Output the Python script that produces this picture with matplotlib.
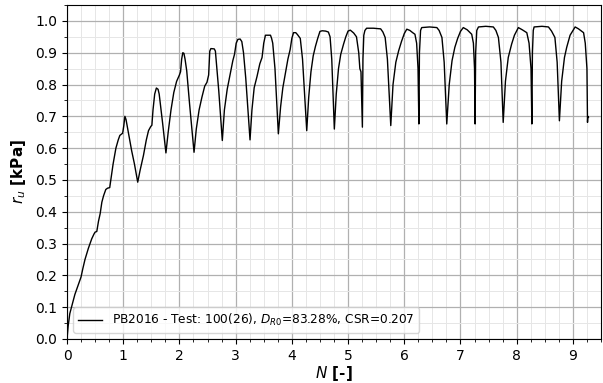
import matplotlib
matplotlib.use("Agg")
import matplotlib.pyplot as plt
from matplotlib.ticker import MultipleLocator

N = [0, 0.02, 0.05, 0.08, 0.14, 0.2, 0.25, 0.28, 0.32, 0.38, 0.44, 0.48, 0.50, 0.53, 0.56, 0.59, 0.62, 0.65, 0.69, 0.72, 0.76, 0.78, 0.82, 0.87, 0.91, 0.94, 0.99, 1.01, 1.03,
     1.05, 1.10, 1.15, 1.20, 1.258, 1.30, 1.36, 1.41, 1.45, 1.49, 1.51, 1.53, 1.56, 1.59, 1.62, 1.64, 1.70, 1.76,
     1.80, 1.85, 1.90, 1.95, 2.00, 2.02, 2.04, 2.06, 2.08, 2.10, 2.13, 2.18, 2.26,
     2.30, 2.35, 2.40, 2.45, 2.49, 2.52, 2.54, 2.56, 2.62, 2.64, 2.66, 2.70, 2.763,
     2.80, 2.85, 2.90, 2.95, 2.98, 3.01, 3.04, 3.08, 3.11, 3.14, 3.18, 3.256,
     3.29, 3.33, 3.38, 3.43, 3.47, 3.50, 3.53, 3.62, 3.64, 3.66, 3.70, 3.76,
     3.80, 3.84, 3.88, 3.93, 3.97, 4.00, 4.03, 4.07, 4.10, 4.15, 4.19, 4.265,
     4.30, 4.34, 4.38, 4.42, 4.46, 4.50, 4.54, 4.60, 4.65, 4.68, 4.71, 4.756,
     4.79, 4.83, 4.87, 4.92, 4.96, 5.00, 5.04, 5.10, 5.15, 5.19, 5.21, 5.23, 5.255,
     5.265, 5.28, 5.30, 5.33, 5.45, 5.58, 5.62, 5.66, 5.70, 5.76,
     5.80, 5.85, 5.90, 5.95, 6.00, 6.045, 6.10, 6.15, 6.19, 6.22, 6.245, 6.26,
     6.27, 6.29, 6.31, 6.45, 6.58, 6.62, 6.67, 6.71, 6.756,
     6.80, 6.85, 6.90, 6.95, 7.00, 7.05, 7.12, 7.20, 7.23, 7.25, 7.26,
     7.27, 7.29, 7.32, 7.45, 7.585, 7.63, 7.675, 7.72, 7.76,
     7.80, 7.85, 7.91, 7.96, 8.03, 8.10, 8.18, 8.22, 8.255, 8.27,
     8.28, 8.295, 8.31, 8.45, 8.565, 8.62, 8.68, 8.72, 8.76,
     8.80, 8.85, 8.89, 8.95, 9.04, 9.10, 9.19, 9.22, 9.25, 9.26, 9.265, 9.276]

ru = [0, 0.04, 0.08, 0.10, 0.14, 0.17, 0.195, 0.22, 0.25, 0.285, 0.315, 0.33, 0.336, 0.338, 0.37, 0.394, 0.43, 0.45, 0.47, 0.474, 0.476, 0.50, 0.55, 0.60, 0.625, 0.64, 0.647, 0.67, 0.70,
      0.69, 0.64, 0.592, 0.55, 0.493, 0.53, 0.577, 0.625, 0.655, 0.668, 0.672, 0.72, 0.77, 0.789, 0.785, 0.77, 0.68, 0.585,
      0.65, 0.72, 0.775, 0.81, 0.83, 0.84, 0.88, 0.90, 0.898, 0.88, 0.843, 0.74, 0.587,
      0.66, 0.72, 0.76, 0.795, 0.807, 0.83, 0.905, 0.913, 0.912, 0.905, 0.864, 0.78, 0.624,
      0.72, 0.785, 0.83, 0.875, 0.895, 0.93, 0.942, 0.943, 0.935, 0.90, 0.82, 0.626,
      0.72, 0.79, 0.825, 0.865, 0.885, 0.93, 0.955, 0.955, 0.945, 0.93, 0.85, 0.645,
      0.73, 0.79, 0.83, 0.88, 0.91, 0.945, 0.963, 0.963, 0.957, 0.945, 0.88, 0.655,
      0.76, 0.84, 0.89, 0.92, 0.945, 0.967, 0.969, 0.968, 0.965, 0.95, 0.88, 0.66,
      0.77, 0.85, 0.895, 0.927, 0.95, 0.968, 0.971, 0.962, 0.95, 0.90, 0.85, 0.84, 0.666,
      0.88, 0.955, 0.97, 0.977, 0.977, 0.975, 0.965, 0.948, 0.88, 0.671,
      0.80, 0.87, 0.906, 0.935, 0.96, 0.974, 0.97, 0.963, 0.958, 0.93, 0.85, 0.676,
      0.90, 0.97, 0.979, 0.981, 0.979, 0.97, 0.948, 0.87, 0.676,
      0.80, 0.875, 0.917, 0.945, 0.967, 0.979, 0.972, 0.958, 0.93, 0.85, 0.676,
      0.90, 0.97, 0.981, 0.983, 0.981, 0.97, 0.948, 0.87, 0.681,
      0.81, 0.885, 0.927, 0.955, 0.979, 0.972, 0.963, 0.93, 0.85, 0.676,
      0.90, 0.97, 0.981, 0.983, 0.981, 0.968, 0.948, 0.87, 0.686,
      0.81, 0.885, 0.917, 0.955, 0.981, 0.975, 0.963, 0.93, 0.85, 0.681, 0.70, 0.697]

legend_label = r"PB2016 - Test: 100(26), $D_{R0}$=83.28%, CSR=0.207"

fig = plt.figure(figsize=(6.03, 3.83), dpi=100)
ax = fig.add_axes([67/603, 1 - 339/383, (601-67)/603, (339-5)/383])
ax.plot(N, ru, color="black", lw=1.0, label=legend_label)
ax.set_xlim(0, 9.5)
ax.set_ylim(0, 1.05)
ax.xaxis.set_major_locator(MultipleLocator(1))
ax.xaxis.set_minor_locator(MultipleLocator(0.25))
ax.yaxis.set_major_locator(MultipleLocator(0.1))
ax.yaxis.set_minor_locator(MultipleLocator(0.05))
ax.grid(which="major", color="#b0b0b0", lw=0.9)
ax.grid(which="minor", color="#e6e6e6", lw=0.7)
ax.set_axisbelow(True)
ax.tick_params(labelsize=10)
ax.set_xlabel(r"$N$ [-]", fontsize=11, fontweight="bold", labelpad=1)
ax.set_ylabel(r"$r_u$ [kPa]", fontsize=11, fontweight="bold", labelpad=5)
ax.legend(loc="lower left", fontsize=8.75, framealpha=0.8)
fig.savefig("out.png", dpi=100)
